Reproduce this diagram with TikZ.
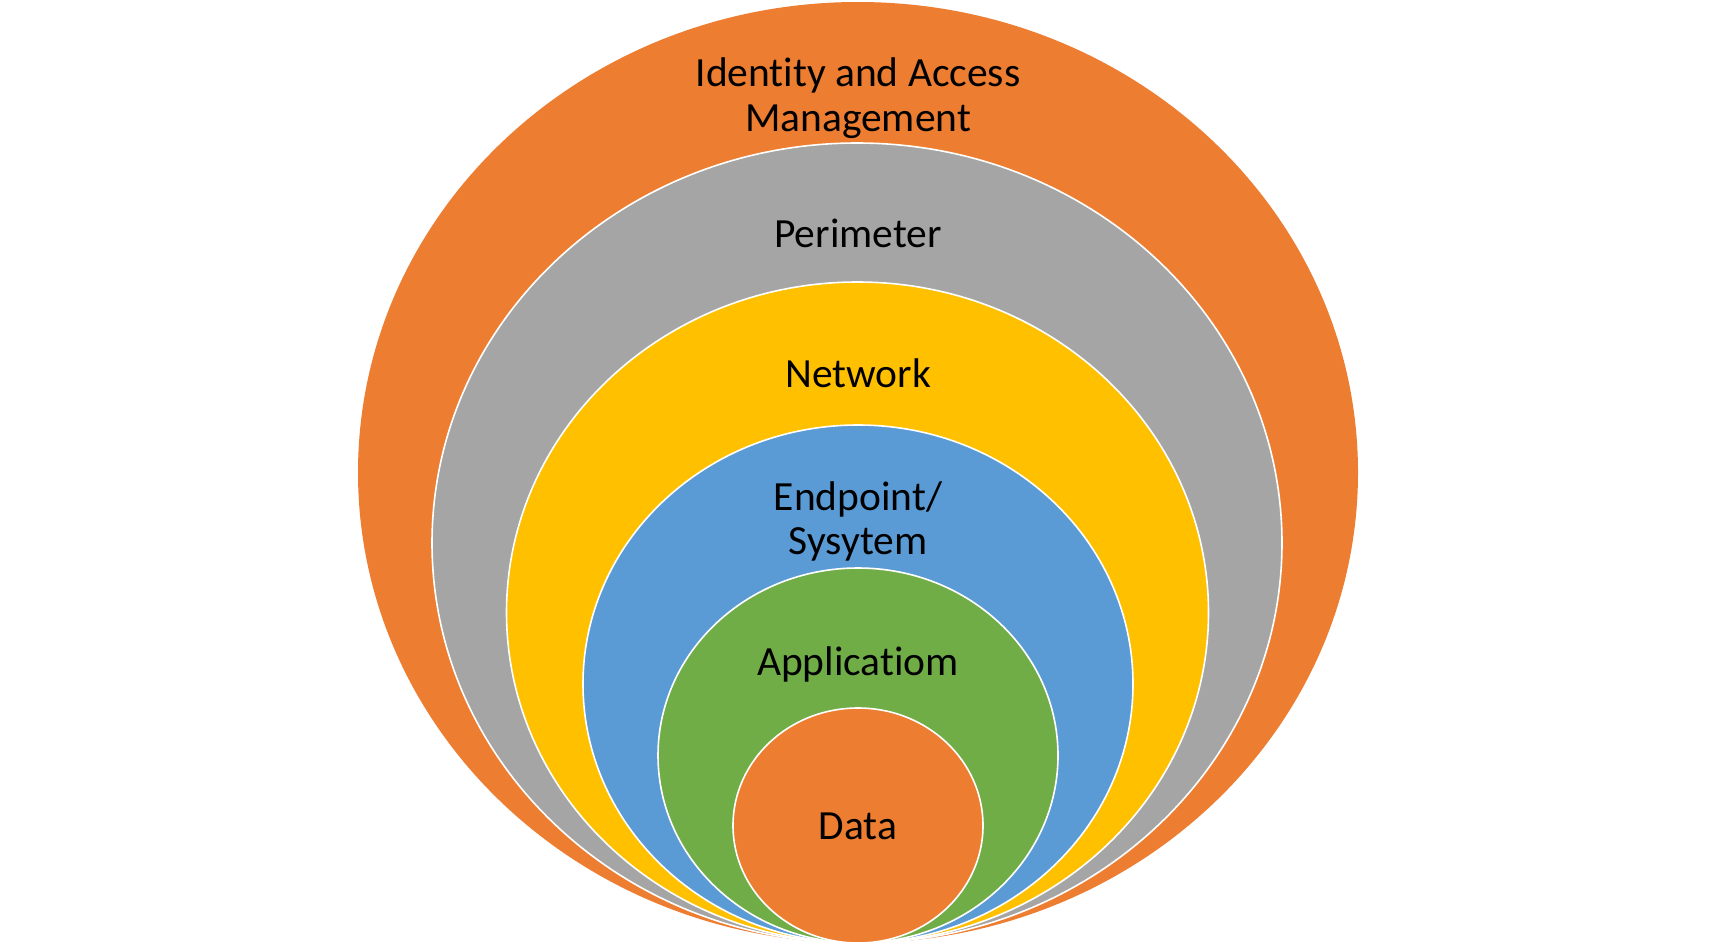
\documentclass[tikz,border=0pt]{standalone}
\usepackage{fontspec}
\setmainfont{Carlito}[Ligatures={NoCommon}]
\definecolor{ring1}{HTML}{ED7D31}
\definecolor{ring2}{HTML}{A5A5A5}
\definecolor{ring3}{HTML}{FFC000}
\definecolor{ring4}{HTML}{5B9BD5}
\definecolor{ring5}{HTML}{70AD47}
\definecolor{ring6}{HTML}{ED7D31}
\tikzset{
  layer/.style={draw=white, line width=1.6pt},
  lbl/.style={anchor=base, inner sep=0pt, font=\fontsize{41.5}{49}\selectfont, text=black}
}
\begin{document}
\begin{tikzpicture}[x=1pt,y=-1pt]
\useasboundingbox (0,0) rectangle (1716,946);
\fill[white] (0,0) rectangle (1716,946);
\fill[ring1] (858,472.5) ellipse [x radius=500, y radius=470.5];
\filldraw[layer, fill=ring2] (857,543) ellipse [x radius=425, y radius=400];
\filldraw[layer, fill=ring3] (857.5,612.5) ellipse [x radius=351, y radius=330.5];
\filldraw[layer, fill=ring4] (858,684) ellipse [x radius=275, y radius=259];
\filldraw[layer, fill=ring5] (858,755.5) ellipse [x radius=200, y radius=187.5];
\filldraw[layer, fill=ring6] (858,825.5) ellipse [x radius=125, y radius=117.5];
\node[lbl] (iam1) at (858,86) {Identity and Access};
\node[lbl] (iam2) at (858,131) {Management};
\node[lbl] (per) at (858,247.5) {Perimeter};
\node[lbl] (net) at (858,387.5) {Network};
\node[lbl] (end1) at (858,510.5) {Endpoint/};
\node[lbl] (end2) at (858,554) {Sysytem};
\node[lbl] (app) at (858,675.5) {Applicatiom};
\node[lbl] (data) at (858,839.5) {Data};
\end{tikzpicture}
\end{document}
